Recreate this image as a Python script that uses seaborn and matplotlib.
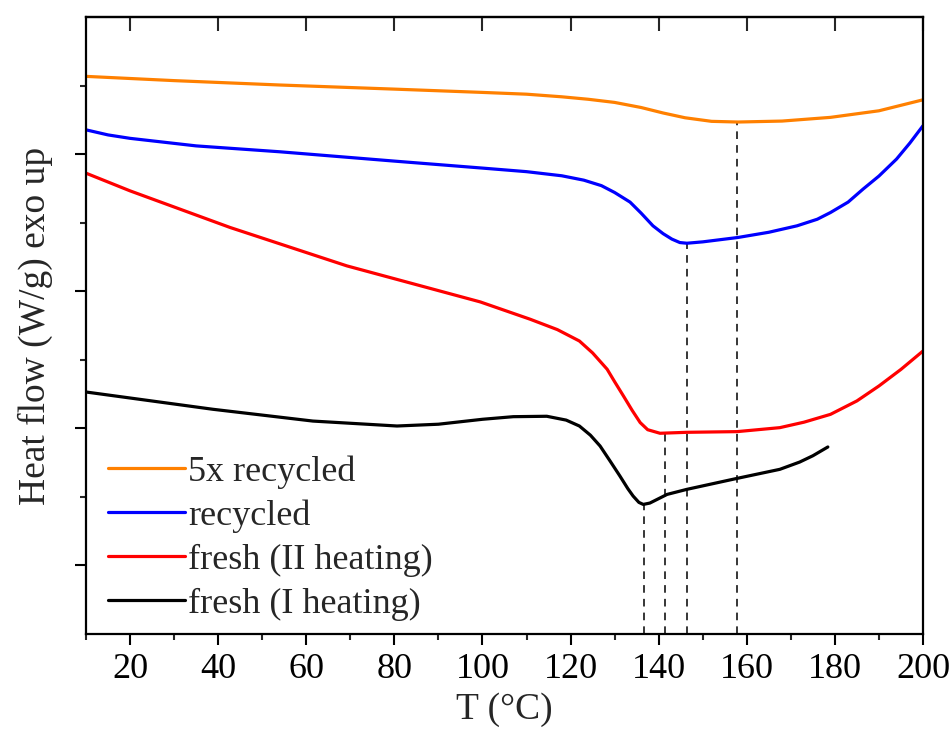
import matplotlib
matplotlib.use("Agg")
import matplotlib.pyplot as plt
import numpy as np
import pandas as pd
import seaborn as sns

# DSC curves (y in arbitrary offset units)
t_5x = [10, 30, 54, 80, 100, 110, 118, 124, 130, 136, 141, 146, 152, 158, 168, 179, 190, 200]
hf_5x = [3.567, 3.536, 3.504, 3.474, 3.450, 3.437, 3.418, 3.400, 3.377, 3.340, 3.300, 3.265,
         3.239, 3.234, 3.241, 3.268, 3.316, 3.396]

t_rec = [10, 15, 20, 35, 54, 80, 100, 110, 118, 123, 127, 130, 133.5, 136, 138.7, 141, 143,
         144.8, 146.4, 150, 158, 165, 171.4, 176, 179, 183, 186.4, 190, 194, 197, 200]
hf_rec = [3.177, 3.14, 3.115, 3.06, 3.017, 2.949, 2.898, 2.872, 2.842, 2.81, 2.77, 2.72, 2.650,
          2.57, 2.477, 2.42, 2.38, 2.355, 2.350, 2.36, 2.392, 2.43, 2.477, 2.525, 2.574, 2.65,
          2.745, 2.84, 2.964, 3.08, 3.207]

t_fresh2 = [10, 20, 42.7, 69.2, 99.5, 110.8, 117, 122, 125, 128.3, 130, 132, 134, 135.8, 137.5,
            140.3, 146.4, 157.8, 167.5, 173, 179, 185, 190, 195, 200]
hf_fresh2 = [2.861, 2.732, 2.465, 2.185, 1.922, 1.796, 1.72, 1.637, 1.55, 1.431, 1.34, 1.236,
             1.13, 1.042, 0.99, 0.964, 0.971, 0.976, 1.005, 1.045, 1.102, 1.20, 1.309, 1.43, 1.564]

t_fresh1 = [10, 38.8, 61.5, 80.6, 90, 100, 107, 114.6, 119, 122, 124.5, 126.7, 129, 131.2, 133,
            134.2, 135.5, 136.5, 138, 141.9, 146.4, 157.8, 167.5, 172, 175, 178.4]
hf_fresh1 = [1.265, 1.139, 1.053, 1.017, 1.03, 1.066, 1.085, 1.088, 1.06, 1.017, 0.95, 0.871,
             0.76, 0.652, 0.56, 0.506, 0.46, 0.445, 0.455, 0.518, 0.555, 0.635, 0.701, 0.754,
             0.80, 0.864]

labels = ["5x recycled", "recycled", "fresh (II heating)", "fresh (I heating)"]
colors = ["#FF8000", "#0000FF", "#FF0000", "#000000"]

# peak temperatures marked by dashed lines
peak_t = [157.8, 146.4, 141.4, 136.6]

series = [(t_5x, hf_5x), (t_rec, hf_rec), (t_fresh2, hf_fresh2), (t_fresh1, hf_fresh1)]
frames = []
for lab, (t, hf) in zip(labels, series):
    frames.append(pd.DataFrame({"T": t, "hf": hf, "sample": lab}))
df = pd.concat(frames, ignore_index=True)

sns.set_style("ticks")
plt.rcParams["font.family"] = ["Liberation Serif", "DejaVu Serif"]

fig = plt.figure(figsize=(9.52, 7.49), dpi=100)
ax = fig.add_axes([86 / 952, 1 - 634 / 749, 837 / 952, 617 / 749])

sns.lineplot(data=df, x="T", y="hf", hue="sample", hue_order=labels, palette=colors,
             estimator=None, sort=True, linewidth=2.3, ax=ax)

ymin, ymax = -0.5, 4.0
for (t, hf), pt in zip(series, peak_t):
    ax.vlines(pt, ymin, np.interp(pt, t, hf), colors="black", linestyles=(0, (5, 4)),
              linewidth=1.1, zorder=1)

ax.set_xlim(10, 200)
ax.set_ylim(ymin, ymax)
ax.set_xticks(np.arange(20, 201, 20))
ax.set_xticks(np.arange(10, 201, 10), minor=True)
ax.set_yticks([0, 1, 2, 3])
ax.set_yticks([0.5, 1.5, 2.5, 3.5], minor=True)
ax.set_yticklabels([])

for s in ax.spines.values():
    s.set_linewidth(1.6)
    s.set_color("black")

ax.tick_params(axis="both", which="major", direction="out", length=8, width=1.5,
               labelsize=26, colors="black", pad=6)
ax.tick_params(axis="both", which="minor", direction="out", length=4.5, width=1.5)
ax.tick_params(axis="y", which="both", labelleft=False)

top = ax.secondary_xaxis("top")
top.set_xticks(np.arange(20, 201, 20))
top.tick_params(direction="in", length=10, width=1.5, labeltop=False)
top.spines["top"].set_linewidth(1.6)

ax.set_xlabel("T (°C)", fontsize=27, labelpad=4)
ax.set_ylabel("Heat flow (W/g) exo up", fontsize=27, labelpad=16)

leg = ax.legend(loc="upper left", bbox_to_anchor=(0.026, 0.29), frameon=False,
                fontsize=26, handlelength=2.14, handletextpad=0.08, labelspacing=0.3,
                borderpad=0, borderaxespad=0)
for line in leg.get_lines():
    line.set_linewidth(2.3)

fig.savefig("out.png", dpi=100)
